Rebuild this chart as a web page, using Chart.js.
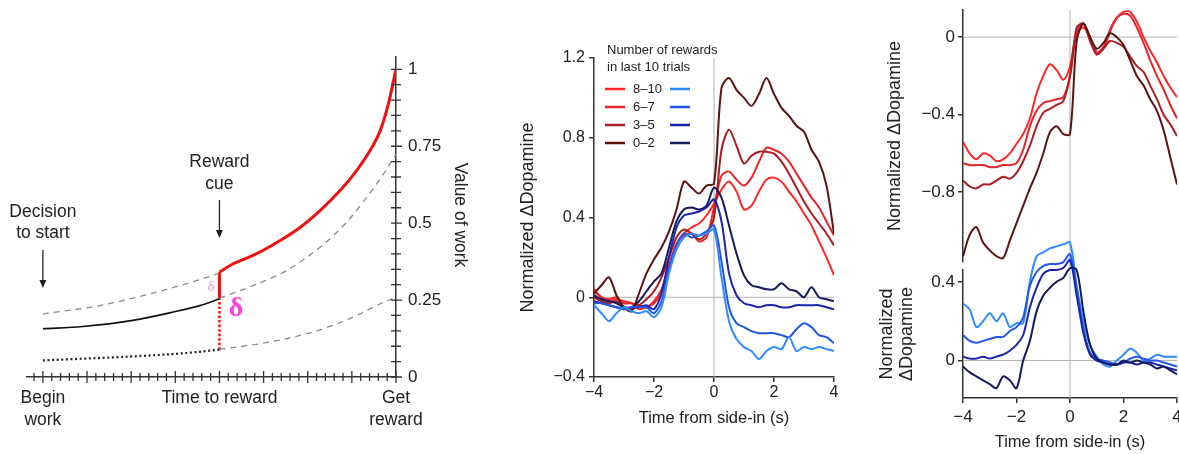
<!DOCTYPE html>
<html>
<head>
<meta charset="utf-8">
<script src="https://cdn.jsdelivr.net/npm/chart.js@4.4.1/dist/chart.umd.min.js"></script>
<style>
  body { margin: 0; background: #fff; width: 1179px; height: 454px; overflow: hidden; position: relative; }
  .box { position: absolute; }
</style>
</head>
<body>
<div class="box" style="left:0;top:0;width:480px;height:454px"><canvas id="valueChart"></canvas></div>
<div class="box" style="left:500px;top:0;width:360px;height:454px"><canvas id="rewardChart"></canvas></div>
<div class="box" style="left:860px;top:0;width:319px;height:266px"><canvas id="redChart"></canvas></div>
<div class="box" style="left:860px;top:226px;width:319px;height:228px"><canvas id="blueChart"></canvas></div>
<script>
// ---- Panel A: value of work (time to reward runs 0 -> 1) ----
const cueX = 0.5;
const redCurveX = [0.5, 0.539, 0.595, 0.671, 0.728, 0.785, 0.841, 0.888, 0.926, 0.955, 0.978, 1.0];
const redCurveY = [0.341, 0.368, 0.395, 0.443, 0.486, 0.541, 0.605, 0.670, 0.735, 0.800, 0.886, 1.0];
const upperDashX = [0, 0.161, 0.302, 0.406, 0.5];
const upperDashY = [0.205, 0.232, 0.270, 0.303, 0.337];
const blackX = [0, 0.113, 0.255, 0.369, 0.444, 0.5];
const blackY = [0.157, 0.164, 0.184, 0.211, 0.232, 0.254];
const midDashX = [0.5, 0.595, 0.69, 0.785, 0.86, 0.917, 0.964, 1.0];
const midDashY = [0.256, 0.297, 0.346, 0.422, 0.503, 0.584, 0.659, 0.724];
const lowDashX = [0.5, 0.614, 0.728, 0.822, 0.898, 0.955, 0.99];
const lowDashY = [0.090, 0.108, 0.135, 0.168, 0.205, 0.238, 0.255];
const dottedX = [0, 0.255, 0.406, 0.5];
const dottedY = [0.054, 0.067, 0.078, 0.089];
const cueJumpY = [0.089, 0.254, 0.341];
const aLabelPos = [0, 0.5, 1];
const aLabels = [['Begin', 'work'], 'Time to reward', ['Get', 'reward']];
const aYTicks = [0, 0.25, 0.5, 0.75, 1];

// ---- Panels B and C: dopamine traces ----
const groupLabels = ['8\u201310', '6\u20137', '3\u20135', '0\u20132'];
const timeGrid = [-4, -3.75, -3.5, -3.25, -3, -2.75, -2.5, -2.25, -2, -1.75, -1.5, -1.25, -1, -0.75, -0.5, -0.25,
  0, 0.25, 0.5, 0.75, 1, 1.25, 1.5, 1.75, 2, 2.25, 2.5, 2.75, 3, 3.25, 3.5, 3.75, 4];
const timeTicks = [-4, -2, 0, 2, 4];

// panel B, red (left-column legend) traces
const bRed810 = [0.04, 0.00, -0.02, -0.01, -0.02, -0.03, -0.06, -0.05, -0.03, 0.02, 0.15, 0.26, 0.32, 0.35, 0.37, 0.41, 0.47, 0.54, 0.58, 0.53, 0.44, 0.46, 0.53, 0.59, 0.60, 0.58, 0.53, 0.48, 0.42, 0.36, 0.28, 0.20, 0.11];
const bRed67 = [0.03, 0.00, -0.01, 0.00, -0.03, -0.03, -0.04, -0.05, -0.02, 0.04, 0.16, 0.27, 0.31, 0.32, 0.28, 0.30, 0.45, 0.61, 0.63, 0.59, 0.56, 0.60, 0.68, 0.75, 0.74, 0.72, 0.68, 0.62, 0.56, 0.50, 0.45, 0.38, 0.31];
const bRed35 = [0.00, -0.02, -0.03, -0.02, -0.05, -0.06, -0.04, -0.01, 0.03, 0.10, 0.20, 0.30, 0.34, 0.32, 0.29, 0.32, 0.40, 0.74, 0.84, 0.76, 0.67, 0.71, 0.73, 0.73, 0.72, 0.68, 0.62, 0.55, 0.48, 0.42, 0.37, 0.32, 0.26];
const bRed02 = [0.02, 0.06, 0.10, 0.01, -0.05, -0.07, 0.02, 0.12, 0.19, 0.25, 0.33, 0.44, 0.58, 0.55, 0.52, 0.56, 0.57, 1.05, 1.10, 1.04, 1.00, 0.96, 1.02, 1.10, 1.02, 0.95, 0.91, 0.86, 0.83, 0.74, 0.68, 0.56, 0.32];
// panel B, blue traces
const bBlue810 = [-0.04, -0.08, -0.12, -0.08, -0.05, -0.07, -0.08, -0.07, -0.10, -0.05, 0.12, 0.24, 0.30, 0.32, 0.31, 0.32, 0.34, 0.10, -0.12, -0.21, -0.25, -0.27, -0.31, -0.27, -0.25, -0.26, -0.20, -0.27, -0.25, -0.26, -0.25, -0.26, -0.27];
const bBlue67 = [-0.03, -0.03, -0.04, -0.05, -0.06, -0.05, -0.05, -0.05, -0.08, -0.02, 0.14, 0.26, 0.32, 0.30, 0.31, 0.33, 0.36, 0.18, -0.05, -0.13, -0.15, -0.17, -0.18, -0.18, -0.18, -0.19, -0.20, -0.16, -0.13, -0.15, -0.19, -0.20, -0.23];
const bBlue35 = [-0.02, -0.03, -0.04, -0.05, -0.06, -0.05, -0.05, -0.04, -0.06, 0.02, 0.20, 0.35, 0.41, 0.42, 0.43, 0.45, 0.49, 0.38, 0.12, 0.01, -0.03, -0.04, -0.05, -0.04, -0.04, -0.05, -0.05, -0.04, -0.04, -0.04, -0.04, -0.05, -0.06];
const bBlue02 = [0.01, -0.01, -0.02, -0.03, -0.05, -0.05, -0.02, 0.03, 0.08, 0.12, 0.25, 0.38, 0.44, 0.45, 0.44, 0.46, 0.55, 0.50, 0.36, 0.22, 0.11, 0.06, 0.05, 0.04, 0.04, 0.07, 0.04, 0.03, 0.00, 0.05, 0.00, -0.01, -0.02];

// panel C top (red) and bottom (blue)
const cRed810 = [-0.54, -0.60, -0.63, -0.60, -0.61, -0.64, -0.63, -0.60, -0.55, -0.50, -0.42, -0.29, -0.20, -0.14, -0.17, -0.22, -0.15, 0.02, 0.05, 0.00, -0.08, -0.06, 0.03, 0.10, 0.13, 0.13, 0.08, 0.00, -0.07, -0.13, -0.20, -0.26, -0.31];
const cRed67 = [-0.65, -0.66, -0.66, -0.66, -0.67, -0.67, -0.66, -0.66, -0.65, -0.58, -0.46, -0.38, -0.34, -0.33, -0.32, -0.31, -0.20, 0.03, 0.07, 0.00, -0.08, -0.05, 0.04, 0.10, 0.12, 0.11, 0.05, -0.03, -0.12, -0.20, -0.27, -0.35, -0.42];
const cRed35 = [-0.74, -0.77, -0.78, -0.76, -0.76, -0.74, -0.72, -0.73, -0.70, -0.64, -0.56, -0.46, -0.39, -0.37, -0.35, -0.33, -0.20, 0.05, 0.07, -0.02, -0.09, -0.06, -0.02, -0.03, -0.05, -0.10, -0.15, -0.18, -0.25, -0.32, -0.40, -0.45, -0.51];
const cRed02 = [-1.13, -1.02, -0.98, -1.06, -1.10, -1.13, -1.14, -1.05, -0.96, -0.87, -0.78, -0.70, -0.60, -0.49, -0.46, -0.50, -0.50, -0.02, 0.07, 0.00, -0.06, -0.03, 0.02, 0.00, -0.04, -0.12, -0.20, -0.25, -0.32, -0.38, -0.48, -0.62, -0.76];
const cBlue810 = [0.29, 0.26, 0.17, 0.20, 0.24, 0.20, 0.24, 0.17, 0.19, 0.19, 0.40, 0.53, 0.55, 0.57, 0.58, 0.59, 0.60, 0.38, 0.20, 0.08, 0.02, -0.02, -0.03, 0.00, 0.03, 0.06, 0.04, 0.00, 0.01, 0.03, 0.02, 0.02, 0.02];
const cBlue67 = [0.13, 0.10, 0.09, 0.10, 0.11, 0.12, 0.12, 0.15, 0.17, 0.22, 0.38, 0.45, 0.48, 0.49, 0.49, 0.50, 0.54, 0.36, 0.16, 0.04, 0.01, 0.00, -0.01, -0.02, -0.01, 0.01, 0.02, 0.01, 0.00, 0.00, -0.01, -0.02, -0.03];
const cBlue35 = [0.02, 0.01, 0.01, 0.02, 0.01, 0.02, 0.03, 0.05, 0.08, 0.13, 0.27, 0.37, 0.44, 0.46, 0.46, 0.47, 0.51, 0.33, 0.14, 0.03, 0.00, -0.01, -0.02, -0.02, -0.01, -0.01, -0.02, -0.01, -0.01, -0.02, -0.03, -0.04, -0.05];
const cBlue02 = [-0.03, -0.06, -0.08, -0.10, -0.12, -0.14, -0.08, -0.10, -0.14, 0.00, 0.10, 0.25, 0.33, 0.37, 0.40, 0.42, 0.47, 0.46, 0.25, 0.08, 0.01, -0.01, -0.02, -0.02, 0.00, -0.01, 0.00, -0.01, -0.02, -0.04, -0.03, -0.05, -0.07];
const cRedTicks = [-0.8, -0.4, 0];
const cBlueTicks = [0, 0.4];
const bYTicks = [-0.4, 0, 0.4, 0.8, 1.2];

const redShades = ['#ff2626', '#e8242c', '#a81e22', '#5c1212'];
const blueShades = ['#2f8cff', '#2256e6', '#1b24a8', '#141a5e'];

const SANS = '"Liberation Sans", Arial, sans-serif';
Chart.defaults.font.family = SANS;
Chart.defaults.color = '#222';
Chart.defaults.animation = false;

function pts(xs, ys) {
  return xs.map((v, i) => ({ x: v, y: ys[i] }));
}
function minus(v) {
  return v < 0 ? '\u2212' + Math.abs(v) : String(v);
}
function trace(values, color) {
  return { data: pts(timeGrid, values), borderColor: color, borderWidth: 2, pointRadius: 0, tension: 0.3, fill: false };
}
// fixed axis thickness, and no extra room for the end tick labels
function fixSize(prop, size) {
  return s => {
    s[prop] = size;
    s.paddingLeft = s.paddingRight = s.paddingTop = s.paddingBottom = 0;
  };
}
function arrowDown(ctx, x, y1, y2) {
  ctx.beginPath();
  ctx.moveTo(x, y1);
  ctx.lineTo(x, y2 - 6);
  ctx.stroke();
  ctx.beginPath();
  ctx.moveTo(x - 3.5, y2 - 8);
  ctx.lineTo(x + 3.5, y2 - 8);
  ctx.lineTo(x, y2);
  ctx.closePath();
  ctx.fill();
}

// tick marks crossing the axes, arrows and labels for panel A
const valueDecor = {
  id: 'valueDecor',
  afterDraw(chart) {
    const { ctx, scales: { x, y } } = chart;
    ctx.save();
    ctx.strokeStyle = '#333';
    ctx.lineWidth = 1.3;
    const y0 = y.getPixelForValue(0);
    const x1 = x.getPixelForValue(1);
    ctx.beginPath();
    for (let k = -1; k <= 40; k++) {
      const px = x.getPixelForValue(k / 40);
      const h = k % 5 === 0 ? 6 : 4;
      ctx.moveTo(px, y0 - h);
      ctx.lineTo(px, y0 + h);
    }
    for (let k = 0; k <= 20; k++) {
      const py = y.getPixelForValue(k * 0.05);
      ctx.moveTo(x1 - 5, py);
      ctx.lineTo(x1 + (k % 5 === 0 ? 6 : 5), py);
    }
    ctx.stroke();

    ctx.fillStyle = '#222';
    ctx.strokeStyle = '#222';
    ctx.lineWidth = 1.3;
    arrowDown(ctx, x.getPixelForValue(0), y.getPixelForValue(0.413), y.getPixelForValue(0.289));
    arrowDown(ctx, x.getPixelForValue(cueX), y.getPixelForValue(0.575), y.getPixelForValue(0.452));

    ctx.font = '17.5px ' + SANS;
    ctx.textAlign = 'center';
    ctx.textBaseline = 'middle';
    const dx = x.getPixelForValue(0), cx = x.getPixelForValue(cueX);
    ctx.fillText('Decision', dx, y.getPixelForValue(0.536));
    ctx.fillText('to start', dx, y.getPixelForValue(0.468));
    ctx.fillText('Reward', cx, y.getPixelForValue(0.699));
    ctx.fillText('cue', cx, y.getPixelForValue(0.627));

    ctx.save();
    ctx.translate(460, 215);
    ctx.rotate(Math.PI / 2);
    ctx.fillText('Value of work', 0, 0);
    ctx.restore();

    ctx.font = '15px "Liberation Serif", serif';
    ctx.fillStyle = '#ff8ce8';
    ctx.fillText('\u03b4', x.getPixelForValue(0.476), y.getPixelForValue(0.292));
    ctx.font = 'bold 28px "Liberation Serif", serif';
    ctx.fillStyle = '#ff3ee0';
    ctx.fillText('\u03b4', x.getPixelForValue(0.547), y.getPixelForValue(0.221));
    ctx.restore();
  }
};

// thin grey lines through zero on both axes
const zeroLines = {
  id: 'zeroLines',
  beforeDatasetsDraw(chart, args, opts) {
    const { ctx, chartArea: a, scales: { x, y } } = chart;
    const px = x.getPixelForValue(0), py = y.getPixelForValue(0);
    ctx.save();
    ctx.strokeStyle = '#b0b0b0';
    ctx.lineWidth = 1;
    ctx.beginPath();
    ctx.moveTo(px, a.top - (opts.up || 0));
    ctx.lineTo(px, a.bottom + (opts.down || 0));
    ctx.moveTo(a.left, py);
    ctx.lineTo(a.right, py);
    ctx.stroke();
    ctx.restore();
  }
};

// two-column colour key of panel B
const rewardKey = {
  id: 'rewardKey',
  afterDraw(chart) {
    const { ctx, chartArea: a } = chart;
    ctx.save();
    ctx.font = '13px ' + SANS;
    ctx.fillStyle = '#222';
    ctx.textBaseline = 'middle';
    ctx.fillText('Number of rewards', a.left + 13, a.top - 8);
    ctx.fillText('in last 10 trials', a.left + 13, a.top + 9);
    ctx.lineWidth = 2.5;
    groupLabels.forEach((lab, i) => {
      const yy = a.top + 31 + i * 18;
      ctx.strokeStyle = redShades[i];
      ctx.beginPath(); ctx.moveTo(a.left + 11, yy); ctx.lineTo(a.left + 31, yy); ctx.stroke();
      ctx.fillText(lab, a.left + 39, yy);
      ctx.strokeStyle = blueShades[i];
      ctx.beginPath(); ctx.moveTo(a.left + 76, yy); ctx.lineTo(a.left + 96, yy); ctx.stroke();
    });
    ctx.restore();
  }
};

const axisGrid = { drawOnChartArea: false, color: '#333', lineWidth: 1.5, tickLength: 5 };
const axisBorder = { color: '#333', width: 1.5 };
const noChrome = { legend: { display: false }, tooltip: { enabled: false } };

// ---- Panel A chart ----
const dash = { borderColor: '#8a8a8a', borderWidth: 1.3, borderDash: [6, 5] };
new Chart(document.getElementById('valueChart'), {
  type: 'scatter',
  data: {
    datasets: [
      Object.assign({ data: pts(upperDashX, upperDashY) }, dash),
      Object.assign({ data: pts(midDashX, midDashY) }, dash),
      Object.assign({ data: pts(lowDashX, lowDashY) }, dash),
      { data: pts(dottedX, dottedY), borderColor: '#222', borderWidth: 2.2, borderDash: [2, 2.6] },
      { data: pts(blackX, blackY), borderColor: '#111', borderWidth: 1.6 },
      { data: pts([cueX, cueX], cueJumpY.slice(0, 2)), borderColor: '#ff1a1a', borderWidth: 2.6, borderDash: [2.5, 2] },
      { data: pts([cueX, cueX], cueJumpY.slice(1)), borderColor: '#ee1111', borderWidth: 3 },
      { data: pts(redCurveX, redCurveY), borderColor: '#ee1111', borderWidth: 3 }
    ].map(d => Object.assign({ showLine: true, pointRadius: 0, cubicInterpolationMode: 'monotone' }, d))
  },
  options: {
    responsive: true,
    maintainAspectRatio: false,
    layout: { autoPadding: false, padding: { left: 27, top: 57, right: 0, bottom: 0 } },
    plugins: noChrome,
    scales: {
      x: {
        type: 'linear', min: -0.045, max: 1,
        afterBuildTicks: s => { s.ticks = aLabelPos.map(v => ({ value: v })); },
        afterFit: fixSize('height', 77),
        grid: { display: false, drawTicks: false },
        border: axisBorder,
        ticks: { callback: (v, i) => aLabels[i], autoSkip: false, maxRotation: 0, padding: 10,
          font: { size: 17.5, lineHeight: 1.26 }, color: '#222' }
      },
      y: {
        type: 'linear', position: 'right', min: 0, max: 1.04,
        afterBuildTicks: s => { s.ticks = aYTicks.map(v => ({ value: v })); },
        afterFit: fixSize('width', 84),
        grid: { display: false, drawTicks: false },
        border: axisBorder,
        ticks: { callback: v => String(v), padding: 12, font: { size: 17 }, color: '#222' }
      }
    }
  },
  plugins: [valueDecor]
});

// ---- Panel B chart ----
new Chart(document.getElementById('rewardChart'), {
  type: 'line',
  data: {
    datasets: [
      trace(bBlue810, blueShades[0]), trace(bBlue67, blueShades[1]),
      trace(bBlue35, blueShades[2]), trace(bBlue02, blueShades[3]),
      trace(bRed02, redShades[3]), trace(bRed35, redShades[2]),
      trace(bRed67, redShades[1]), trace(bRed810, redShades[0])
    ]
  },
  options: {
    responsive: true,
    maintainAspectRatio: false,
    layout: { autoPadding: false, padding: { left: 0, top: 58, right: 26, bottom: 0 } },
    plugins: noChrome,
    scales: {
      x: {
        type: 'linear', min: -4, max: 4,
        afterBuildTicks: s => { s.ticks = timeTicks.map(v => ({ value: v })); },
        afterFit: fixSize('height', 77),
        grid: axisGrid, border: axisBorder,
        ticks: { callback: minus, padding: 1, font: { size: 16 }, color: '#222' },
        title: { display: true, text: 'Time from side-in (s)', font: { size: 16.5 }, padding: { top: 0, bottom: 26 }, color: '#222' }
      },
      y: {
        type: 'linear', min: -0.4, max: 1.2,
        afterBuildTicks: s => { s.ticks = bYTicks.map(v => ({ value: v })); },
        afterFit: fixSize('width', 94),
        grid: axisGrid, border: axisBorder,
        ticks: { callback: minus, padding: 4, font: { size: 16 }, color: '#222' },
        title: { display: true, text: 'Normalized \u0394Dopamine', font: { size: 18 }, padding: { top: 17, bottom: 0 }, color: '#222' }
      }
    }
  },
  plugins: [zeroLines, rewardKey]
});

// ---- Panel C top (red) ----
new Chart(document.getElementById('redChart'), {
  type: 'line',
  data: {
    datasets: [
      trace(cRed02, redShades[3]), trace(cRed35, redShades[2]),
      trace(cRed67, redShades[1]), trace(cRed810, redShades[0])
    ]
  },
  options: {
    responsive: true,
    maintainAspectRatio: false,
    layout: { autoPadding: false, padding: { left: 0, top: 10, right: 2, bottom: 4 } },
    plugins: Object.assign({ zeroLines: { up: 0, down: 4 } }, noChrome),
    scales: {
      x: { type: 'linear', min: -4, max: 4, display: false },
      y: {
        type: 'linear', min: -1.16, max: 0.14,
        afterBuildTicks: s => { s.ticks = cRedTicks.map(v => ({ value: v })); },
        afterFit: fixSize('width', 103),
        grid: axisGrid, border: axisBorder,
        ticks: { callback: minus, padding: 3, font: { size: 17 }, color: '#222' },
        title: { display: true, text: 'Normalized \u0394Dopamine', font: { size: 18 }, padding: { top: 24, bottom: 0 }, color: '#222' }
      }
    }
  },
  plugins: [zeroLines]
});

// ---- Panel C bottom (blue) ----
new Chart(document.getElementById('blueChart'), {
  type: 'line',
  data: {
    datasets: [
      trace(cBlue02, blueShades[3]), trace(cBlue35, blueShades[2]),
      trace(cBlue67, blueShades[1]), trace(cBlue810, blueShades[0])
    ].map(d => Object.assign(d, { clip: { left: 1, top: 60, right: 1, bottom: 1 } }))
  },
  options: {
    responsive: true,
    maintainAspectRatio: false,
    layout: { autoPadding: false, padding: { left: 0, top: 44, right: 2, bottom: 0 } },
    plugins: Object.assign({ zeroLines: { up: 8, down: 0 } }, noChrome),
    scales: {
      x: {
        type: 'linear', min: -4, max: 4,
        afterBuildTicks: s => { s.ticks = timeTicks.map(v => ({ value: v })); },
        afterFit: fixSize('height', 56),
        grid: axisGrid, border: axisBorder,
        ticks: { callback: minus, padding: 4, font: { size: 17 }, color: '#222' },
        title: { display: true, text: 'Time from side-in (s)', font: { size: 16.5 }, padding: { top: 0, bottom: 2 }, color: '#222' }
      },
      y: {
        type: 'linear', min: -0.19, max: 0.46,
        afterBuildTicks: s => { s.ticks = cBlueTicks.map(v => ({ value: v })); },
        afterFit: fixSize('width', 103),
        grid: axisGrid, border: axisBorder,
        ticks: { callback: minus, padding: 3, font: { size: 17 }, color: '#222' },
        title: { display: true, text: ['Normalized', '\u0394Dopamine'], font: { size: 18, lineHeight: 1.11 }, padding: { top: 17, bottom: 0 }, color: '#222' }
      }
    }
  },
  plugins: [zeroLines]
});
</script>
</body>
</html>
